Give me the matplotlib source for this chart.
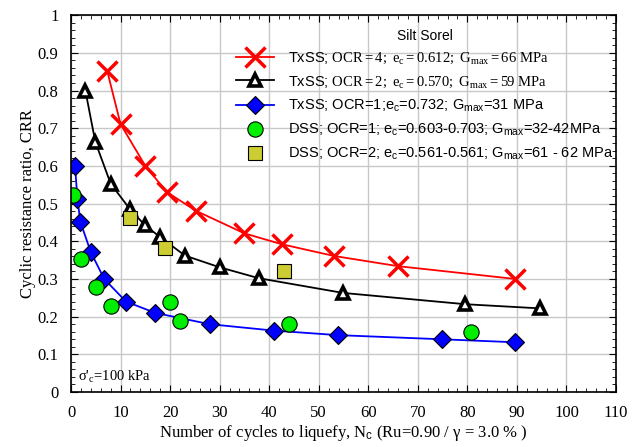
import numpy as np
import matplotlib
matplotlib.use('Agg')
import matplotlib.pyplot as plt
from matplotlib.ticker import MultipleLocator

plt.rcParams['font.family'] = ['Liberation Serif', 'DejaVu Serif']
plt.rcParams['mathtext.fontset'] = 'custom'
plt.rcParams['mathtext.rm'] = 'Liberation Serif'
plt.rcParams['mathtext.it'] = 'Liberation Serif'
plt.rcParams['mathtext.sf'] = 'Liberation Sans'

# TxSS OCR=4
n_ocr4 = [7.3, 10.0, 15.0, 19.3, 25.2, 35.0, 42.6, 53.1, 66.0, 89.7]
crr_ocr4 = [0.852, 0.711, 0.600, 0.531, 0.481, 0.421, 0.392, 0.361, 0.334, 0.300]
# TxSS OCR=2
n_ocr2 = [2.9, 4.9, 8.0, 11.9, 14.9, 17.9, 23.0, 30.0, 37.9, 54.9, 79.6, 94.6]
crr_ocr2 = [0.800, 0.664, 0.553, 0.485, 0.443, 0.412, 0.362, 0.331, 0.302, 0.263, 0.233, 0.222]
# TxSS OCR=1
n_ocr1 = [0.8, 1.3, 1.9, 4.0, 6.7, 11.1, 17.0, 28.0, 40.9, 53.8, 74.8, 89.7]
crr_ocr1 = [0.601, 0.511, 0.451, 0.371, 0.300, 0.240, 0.210, 0.180, 0.163, 0.151, 0.140, 0.132]
# DSS OCR=1
n_dss1 = [0.3, 2.0, 5.0, 8.0, 20.0, 22.0, 43.9, 80.8]
crr_dss1 = [0.522, 0.352, 0.279, 0.228, 0.238, 0.189, 0.180, 0.160]
# DSS OCR=2
n_dss2 = [12.0, 19.0, 42.9]
crr_dss2 = [0.461, 0.381, 0.321]

fig = plt.figure(figsize=(6.41, 4.47), dpi=100)
ax = fig.add_axes([0.1108, 0.123, 0.961 - 0.1108, 0.966 - 0.123])

ax.plot(n_ocr4, crr_ocr4, color='red', lw=1.3, marker='x', ms=15, mew=2.5,
        label=r'TxSS; $\mathrm{OCR{=}4;\ e_c{=}0.612;\ G_{max}{=}66\ MPa}$')
ax.plot(n_ocr2, crr_ocr2, color='black', lw=1.3, marker='^', ms=8, mew=2.6,
        mfc='white', mec='black',
        label=r'TxSS; $\mathrm{OCR{=}2;\ e_c{=}0.570;\ G_{max}{=}59\ MPa}$')
ax.plot(n_ocr1, crr_ocr1, color='blue', lw=1.3, marker='D', ms=9, mew=0.8,
        mfc='blue', mec='black',
        label=r'TxSS; OCR=1;e$_\mathsf{c}$=0.732; G$_\mathsf{max}$=31 MPa')
ax.plot(n_dss1, crr_dss1, ls='none', marker='o', ms=11, mew=0.8,
        mfc='#00ee00', mec='black',
        label=r'DSS; OCR=1; e$_\mathsf{c}$=0.603-0.703; G$_\mathsf{max}$=32-42MPa')
ax.plot(n_dss2, crr_dss2, ls='none', marker='s', ms=10, mew=0.8,
        mfc='#cccc33', mec='black',
        label=r'DSS; OCR=2; e$_\mathsf{c}$=0.561-0.561; G$_\mathsf{max}$=61 - 62 MPa')

ax.set_xlim(0, 110)
ax.set_ylim(0, 1)
ax.xaxis.set_major_locator(MultipleLocator(10))
ax.xaxis.set_minor_locator(MultipleLocator(2))
ax.yaxis.set_major_locator(MultipleLocator(0.1))
ax.yaxis.set_minor_locator(MultipleLocator(0.02))
ax.set_xticks(np.arange(0, 111, 10))
ax.set_xticklabels([str(v) for v in range(0, 111, 10)])
ax.set_yticks(np.arange(0, 1.01, 0.1))
ax.set_yticklabels(['0'] + ['%.1f' % v for v in np.arange(0.1, 0.95, 0.1)] + ['1'])
ax.tick_params(which='both', direction='in', top=True, right=True, labelsize=12, pad=9)
ax.tick_params(which='major', length=5)
ax.tick_params(which='minor', length=3)
ax.grid(True, which='major', color='#c8c8c8', lw=1)
ax.set_axisbelow(True)
for s in ax.spines.values():
    s.set_linewidth(1.2)

ax.set_xlabel(r'Number of cycles to liquefy, N$_\mathsf{c}$ (Ru=0.90 / $\gamma$ = 3.0 % )', fontsize=12, labelpad=2)
ax.set_ylabel('Cyclic resistance ratio, CRR', fontsize=12, labelpad=1)

ax.text(1.5, 0.04, r"$\sigma$'$_c$=100 kPa", fontsize=10.5, ha='left', va='center')

leg = ax.legend(loc='upper left', bbox_to_anchor=(0.284, 0.99), frameon=False,
                title='Silt Sorel', handlelength=2.6, handletextpad=0.95,
                labelspacing=0.55, borderpad=0.2,
                prop={'family': 'Liberation Sans', 'size': 10.5})
leg.get_title().set_fontfamily('Liberation Sans')
leg.get_title().set_fontsize(10)

fig.savefig('out.png', dpi=100)
